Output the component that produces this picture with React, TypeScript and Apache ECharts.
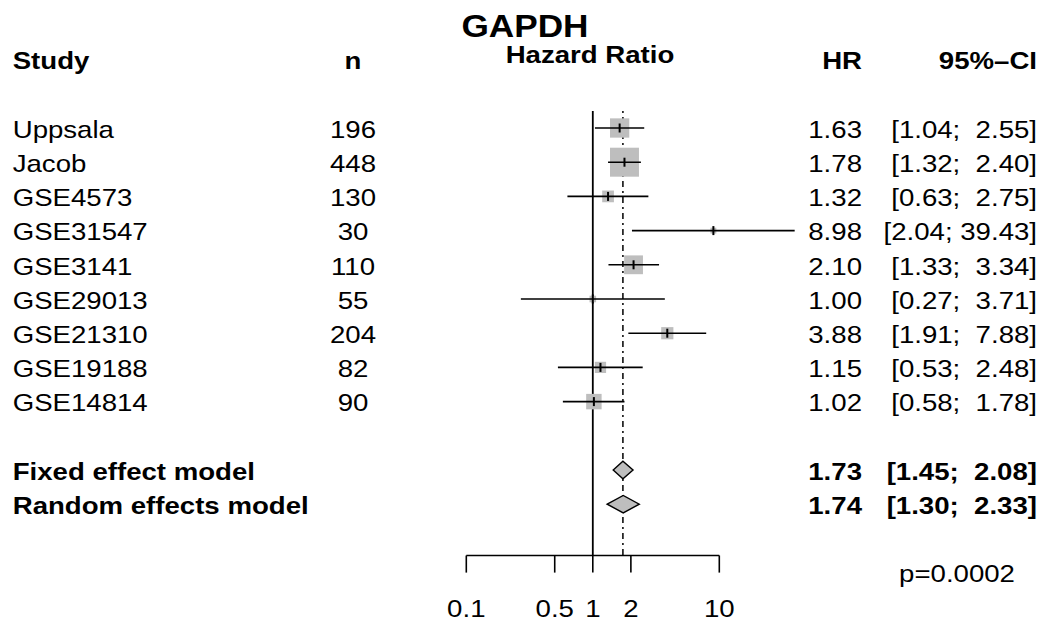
import React, { useEffect, useRef } from "react";
import * as echarts from "echarts";

// ---------- data ----------
const studyNames = ["Uppsala", "Jacob", "GSE4573", "GSE31547", "GSE3141", "GSE29013", "GSE21310", "GSE19188", "GSE14814"];
const studyN = [196, 448, 130, 30, 110, 55, 204, 82, 90];
const studyHR = [1.63, 1.78, 1.32, 8.98, 2.10, 1.00, 3.88, 1.15, 1.02];
const studyLower = [1.04, 1.32, 0.63, 2.04, 1.33, 0.27, 1.91, 0.53, 0.58];
const studyUpper = [2.55, 2.40, 2.75, 39.43, 3.34, 3.71, 7.88, 2.48, 1.78];
const studyWeight = [16.2, 36.6, 6.0, 1.5, 15.4, 1.9, 6.5, 5.5, 10.4];

const modelNames = ["Fixed effect model", "Random effects model"];
const modelHR = [1.73, 1.74];
const modelLower = [1.45, 1.30];
const modelUpper = [2.08, 2.33];

const headerLabels = ["Study", "n", "HR", "95%–CI"];
const axisTicks = [0.1, 0.5, 1, 2, 10];
const axisTickLabels = ["0.1", "0.5", "1", "2", "10"];
const titleText = "GAPDH";
const axisTitle = "Hazard Ratio";
const pValueText = "p=0.0002";

// ---------- layout / style ----------
const FONT = '"Liberation Sans", Arial, Helvetica, sans-serif';
const FS = 24;
const SX = 1.15;
const TEXT_DY = 1.5;
const COL_STUDY = 12.7;
const COL_N = 353;
const COL_HR = 862;
const COL_CI = 1037;
const BOX_K = 4.79;
const GREY = "#BEBEBE";

const fmt = (v: number) => v.toFixed(2);
const fmtCI = (lo: number, up: number) => {
  const u = fmt(up);
  const pad = "\u00a0".repeat(Math.max(0, 5 - u.length));
  return "[" + fmt(lo) + "; " + pad + u + "]";
};

function txt(x: number, y: number, text: string, align: string, bold: boolean, size = FS, sx = SX) {
  return {
    type: "text",
    x,
    y,
    scaleX: sx,
    silent: true,
    style: {
      text,
      fill: "#000",
      fontSize: size,
      fontFamily: FONT,
      fontWeight: bold ? "bold" : "normal",
      align,
      verticalAlign: "middle",
      textAlign: align,
      textVerticalAlign: "middle",
    },
  };
}

// rows: studies 0..8, models 10..11, header -2
const studyData = studyHR.map((h, i) => [h, i, studyLower[i], studyUpper[i], studyWeight[i]]);
const modelData = modelHR.map((h, j) => [h, 10 + j, modelLower[j], modelUpper[j]]);
// table rows: [x, row, kind, index]
const tableData: number[][] = [[1, -2, 0, 0]];
studyNames.forEach((_, i) => tableData.push([1, i, 1, i]));
modelNames.forEach((_, j) => tableData.push([1, 10 + j, 2, j]));
tableData.push([1, 13, 3, 0]);

const refLineData = [
  [1, -0.5, 12.5, 0],
  [modelHR[0], -0.5, 12.5, 1],
];
const axisData = axisTicks.map((t, i) => [t, 12.5, i]);

const option: any = {
  animation: false,
  backgroundColor: "#ffffff",
  grid: { left: 339.8, width: 506, top: 25.4, height: 581.4 },
  xAxis: { type: "log", logBase: 10, min: 0.01, max: 100, show: false },
  yAxis: { type: "value", inverse: true, min: -3, max: 14, show: false },
  graphic: [
    txt(525, 26, titleText, "center", true, 32, 1.1),
    txt(590, 54.5, axisTitle, "center", true),
  ],
  series: [
    {
      type: "custom",
      clip: false,
      silent: true,
      data: refLineData,
      renderItem: (params: any, api: any) => {
        const x = api.value(0);
        const p1 = api.coord([x, api.value(1)]);
        const p2 = api.coord([x, api.value(2)]);
        const dashed = api.value(3) === 1;
        return {
          type: "line",
          shape: { x1: p1[0], y1: p1[1], x2: p2[0], y2: p2[1] },
          style: { stroke: "#000", lineWidth: dashed ? 1.5 : 1.8, lineDash: dashed ? [2, 4, 6, 4] : null },
        };
      },
    },
    {
      type: "custom",
      clip: false,
      silent: true,
      data: axisData,
      renderItem: (params: any, api: any) => {
        const t = api.value(0);
        const row = api.value(1);
        const i = api.value(2);
        const p = api.coord([t, row]);
        const pe = api.coord([t, row + 0.5]);
        const pl = api.coord([t, 14]);
        const children: any[] = [
          { type: "line", shape: { x1: p[0], y1: p[1], x2: pe[0], y2: pe[1] }, style: { stroke: "#000", lineWidth: 1.6 } },
          txt(pl[0], pl[1] + TEXT_DY, axisTickLabels[i], "center", false),
        ];
        if (i === 0) {
          const a = api.coord([axisTicks[0], row]);
          const b = api.coord([axisTicks[axisTicks.length - 1], row]);
          children.push({ type: "line", shape: { x1: a[0], y1: a[1], x2: b[0], y2: b[1] }, style: { stroke: "#000", lineWidth: 1.6 } });
        }
        return { type: "group", children };
      },
    },
    {
      type: "custom",
      clip: false,
      silent: true,
      data: studyData,
      renderItem: (params: any, api: any) => {
        const h = api.value(0);
        const row = api.value(1);
        const c = api.coord([h, row]);
        const lo = api.coord([api.value(2), row]);
        const up = api.coord([api.value(3), row]);
        const side = BOX_K * Math.sqrt(api.value(4));
        return {
          type: "group",
          children: [
            { type: "rect", shape: { x: c[0] - side / 2, y: c[1] - side / 2, width: side, height: side }, style: { fill: GREY } },
            { type: "line", shape: { x1: lo[0], y1: lo[1], x2: up[0], y2: up[1] }, style: { stroke: "#000", lineWidth: 1.6 } },
            { type: "line", shape: { x1: c[0], y1: c[1] - 4.5, x2: c[0], y2: c[1] + 4.5 }, style: { stroke: "#000", lineWidth: 2 } },
          ],
        };
      },
    },
    {
      type: "custom",
      clip: false,
      silent: true,
      data: modelData,
      renderItem: (params: any, api: any) => {
        const h = api.value(0);
        const row = api.value(1);
        const c = api.coord([h, row]);
        const lo = api.coord([api.value(2), row]);
        const up = api.coord([api.value(3), row]);
        const hh = 8.7;
        return {
          type: "polygon",
          shape: { points: [[lo[0], c[1]], [c[0], c[1] - hh], [up[0], c[1]], [c[0], c[1] + hh]] },
          style: { fill: GREY, stroke: "#000", lineWidth: 1.4 },
        };
      },
    },
    {
      type: "custom",
      clip: false,
      silent: true,
      data: tableData,
      renderItem: (params: any, api: any) => {
        const row = api.value(1);
        const kind = api.value(2);
        const idx = api.value(3);
        const y = api.coord([1, row])[1] + TEXT_DY;
        let children: any[] = [];
        if (kind === 0) {
          children = [
            txt(COL_STUDY, y, headerLabels[0], "left", true),
            txt(COL_N, y, headerLabels[1], "center", true),
            txt(COL_HR, y, headerLabels[2], "right", true),
            txt(COL_CI, y, headerLabels[3], "right", true),
          ];
        } else if (kind === 1) {
          children = [
            txt(COL_STUDY, y, studyNames[idx], "left", false),
            txt(COL_N, y, String(studyN[idx]), "center", false),
            txt(COL_HR, y, fmt(studyHR[idx]), "right", false),
            txt(COL_CI, y, fmtCI(studyLower[idx], studyUpper[idx]), "right", false),
          ];
        } else if (kind === 2) {
          children = [
            txt(COL_STUDY, y, modelNames[idx], "left", true),
            txt(COL_HR, y, fmt(modelHR[idx]), "right", true),
            txt(COL_CI, y, fmtCI(modelLower[idx], modelUpper[idx]), "right", true),
          ];
        } else {
          children = [txt(957, y, pValueText, "center", false)];
        }
        return { type: "group", children };
      },
    },
  ],
};

export default function App() {
  const ref = useRef<HTMLDivElement>(null);
  useEffect(() => {
    if (!ref.current) return;
    const chart = echarts.init(ref.current, null, { renderer: "svg" });
    chart.setOption(option);
    return () => chart.dispose();
  }, []);
  return (
    <div
      ref={ref}
      style={{ position: "absolute", left: 0, top: 0, width: 1050, height: 623, background: "#fff" }}
    />
  );
}
